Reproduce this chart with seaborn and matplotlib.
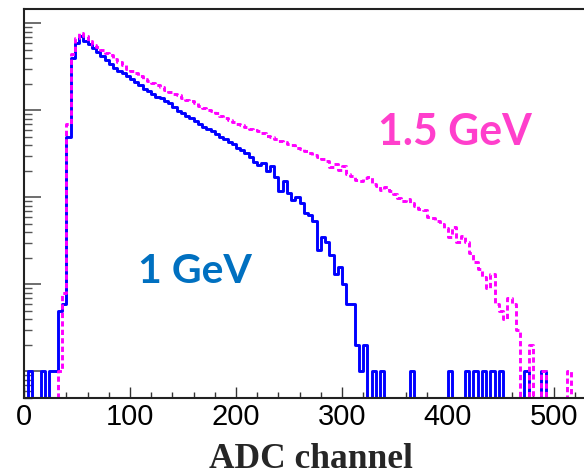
import numpy as np
import pandas as pd
import matplotlib
matplotlib.use('Agg')
import matplotlib.pyplot as plt
from matplotlib.ticker import MultipleLocator, LogLocator, NullFormatter
import seaborn as sns

# histogram binning (ADC channels)
bin_width = 4
n_bins = 136

# counts per bin, 1 GeV (blue, solid)
counts_1gev = [
    0, 1, 0, 0, 1, 0, 1, 1,
    5, 6, 500, 4000, 6000, 7200, 6260, 5780,
    5200, 4740, 4250, 3790, 3400, 3060, 2830, 2650,
    2480, 2290, 2090, 1950, 1760, 1670, 1520, 1440,
    1370, 1290, 1210, 1090, 980, 930, 870, 815,
    753, 695, 651, 610, 578, 534, 500, 468,
    432, 410, 369, 350, 323, 291, 255, 235,
    248, 200, 229, 171, 118, 154, 112, 93,
    101, 86, 66, 63, 53, 25, 35, 31,
    22, 13, 16, 10, 6, 6, 2, 1,
    2, 0, 1, 0, 1, 0, 0, 0,
    0, 0, 0, 1, 0, 0, 0, 0,
    0, 0, 0, 0, 1, 0, 0, 0,
    1, 0, 1, 0, 1, 0, 1, 0,
    1, 0, 0, 0, 0, 0, 1, 0,
    0, 0, 1, 0, 0, 0, 0, 0,
    0, 0, 0, 0, 0, 0, 0, 0,
]

# counts per bin, 1.5 GeV (magenta, dashed)
counts_15gev = [
    0, 0, 0, 0, 0, 0, 0, 0,
    1, 8, 700, 4400, 6800, 7800, 7100, 6310,
    5700, 5300, 4930, 4610, 4380, 3890, 3590, 3320,
    3020, 2830, 2680, 2500, 2320, 2190, 2060, 1950,
    1850, 1710, 1640, 1560, 1480, 1380, 1330, 1280,
    1200, 1120, 1050, 1010, 970, 920, 860, 815,
    773, 734, 705, 678, 643, 610, 594, 578,
    548, 507, 487, 474, 444, 432, 410, 399,
    373, 359, 340, 323, 306, 290, 276, 261,
    223, 241, 206, 229, 185, 177, 158, 155,
    167, 170, 142, 135, 121, 130, 119, 109,
    98, 91, 96, 86, 79, 73, 71, 59,
    58, 54, 49, 44, 35, 46, 31, 36,
    31, 23, 18, 15, 12, 9, 13, 6,
    5, 4, 7, 6, 3, 0, 0, 2,
    0, 0, 1, 0, 0, 0, 0, 0,
    1, 0, 0, 0, 0, 0, 0, 0,
]

x_ticks = [0, 100, 200, 300, 400, 500]
label_1gev = '1 GeV'
label_15gev = '1.5 GeV'
x_title = 'ADC channel'

sns.set_theme(style='ticks')
plt.rcParams['font.family'] = ['Liberation Sans', 'DejaVu Sans']

W, H = 584, 477
fig = plt.figure(figsize=(W / 100, H / 100), dpi=100)
ax = fig.add_axes([24 / W, 78.5 / H, 574 / W, 389 / H])

edges = np.arange(n_bins + 1) * bin_width
centers = edges[:-1] + bin_width / 2
y_floor = 0.5  # empty bins are drawn along the bottom of the frame

df1 = pd.DataFrame({'adc': centers, 'n': np.maximum(np.array(counts_1gev, float), y_floor)})
df2 = pd.DataFrame({'adc': centers, 'n': np.maximum(np.array(counts_15gev, float), y_floor)})

sns.histplot(data=df1, x='adc', weights='n', binwidth=bin_width,
             binrange=(0, n_bins * bin_width), element='step',
             fill=False, color='#0000ff', linewidth=2.1, ax=ax)
sns.histplot(data=df2, x='adc', weights='n', binwidth=bin_width,
             binrange=(0, n_bins * bin_width), element='step',
             fill=False, color='#ff00ff', linewidth=2.1,
             linestyle=(0, (1.8, 1.1)), ax=ax)

ax.set_yscale('log')
ax.set_ylim(0.5, 14800)
ax.set_xlim(0, 541.5)

ax.set_xticks(x_ticks)
ax.xaxis.set_minor_locator(MultipleLocator(20))
ax.yaxis.set_major_locator(LogLocator(base=10))
ax.yaxis.set_minor_locator(LogLocator(base=10, subs=np.arange(2, 10), numticks=20))
ax.yaxis.set_major_formatter(NullFormatter())
ax.yaxis.set_minor_formatter(NullFormatter())

ax.tick_params(axis='x', which='major', direction='in', length=8, width=1.0,
               color='#333333', labelsize=21, pad=3, labelcolor='black')
ax.tick_params(axis='x', which='minor', direction='in', length=4.3, width=1.0,
               color='#333333')
ax.tick_params(axis='y', which='major', direction='in', length=12, width=1.2,
               color='#555555')
ax.tick_params(axis='y', which='minor', direction='in', length=5.8, width=1.0,
               color='#555555')

for side in ['left', 'bottom', 'top']:
    ax.spines[side].set_linewidth(1.5)
    ax.spines[side].set_color('#222222')
ax.spines['right'].set_visible(False)
ax.set_xlabel('')
ax.set_ylabel('')

fig.text(311 / W, 1 - 468 / H, x_title, ha='center', va='baseline',
         fontsize=25.5, fontweight='bold', family=['Liberation Serif'])
fig.text(138 / W, 1 - 283.3 / H, label_1gev, ha='left', va='baseline',
         fontsize=29.5, fontweight='bold', color='#0070c0', family=['Lato'])
fig.text(378 / W, 1 - 145 / H, label_15gev, ha='left', va='baseline',
         fontsize=30.8, fontweight='bold', color='#ff3fcc', family=['Lato'])

fig.savefig('out.png', dpi=100)
